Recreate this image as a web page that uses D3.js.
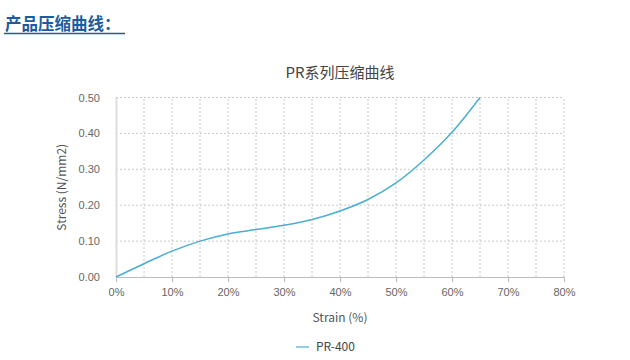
<!DOCTYPE html>
<html>
<head>
<meta charset="utf-8">
<script src="https://cdn.jsdelivr.net/npm/d3@7"></script>
<style>
  body { margin: 0; background: #fff; font-family: 'Noto Sans CJK SC', 'Noto Sans', sans-serif; }
  .grid line { stroke: #c8c8c8; stroke-dasharray: 2,2; }
  .tick text { fill: #666; font-size: 11px; }
</style>
</head>
<body>
<svg id="chart" width="630" height="360"></svg>
<script>
// strain (%) vs stress (N/mm2)
const strain = [0, 5, 10, 15, 20, 25, 30, 35, 40, 45, 50, 55, 60, 65]
const stress = [0, 0.037, 0.072, 0.1, 0.12, 0.132, 0.144, 0.16, 0.184, 0.216, 0.262, 0.326, 0.403, 0.5]
const xTicks = [0, 10, 20, 30, 40, 50, 60, 70, 80]
const xGrid = [5, 10, 15, 20, 25, 30, 35, 40, 45, 50, 55, 60, 65, 70, 75, 80]
const yTicks = [0, 0.1, 0.2, 0.3, 0.4, 0.5]
const seriesName = 'PR-400'

const svg = d3.select('#chart')
const color = '#4aaed0'

const x = d3.scaleLinear().domain([0, 80]).range([116, 564])
const y = d3.scaleLinear().domain([0, 0.5]).range([277, 97.5])

// page header
svg.append('text')
  .attr('x', 5).attr('y', 30)
  .attr('fill', '#1b5c9e')
  .attr('font-size', 16.5).attr('font-weight', 'bold')
  .text('产品压缩曲线：')
svg.append('line')
  .attr('x1', 4).attr('x2', 125).attr('y1', 33.5).attr('y2', 33.5)
  .attr('stroke', '#1b5c9e').attr('stroke-width', 1.5)

svg.append('text')
  .attr('x', 340).attr('y', 78)
  .attr('text-anchor', 'middle')
  .attr('fill', '#444').attr('font-size', 15)
  .text('PR系列压缩曲线')

// grid
svg.append('g').classed('grid', true)
  .selectAll('line').data(xGrid).join('line')
  .attr('x1', d => x(d)).attr('x2', d => x(d))
  .attr('y1', y(0)).attr('y2', y(0.5))
svg.append('g').classed('grid', true)
  .selectAll('line').data(yTicks.slice(1)).join('line')
  .attr('x1', x(0)).attr('x2', x(80))
  .attr('y1', d => y(d)).attr('y2', d => y(d))
  .attr('stroke', '#aaa')

// axes
const xAxis = svg.append('g')
  .attr('transform', `translate(0,${y(0)})`)
  .call(d3.axisBottom(x).tickValues(xTicks).tickFormat(d => d + '%').tickSize(5).tickPadding(6))
xAxis.select('.domain').attr('stroke', '#bbb')
xAxis.selectAll('.tick line').attr('stroke', '#bbb')

const yAxis = svg.append('g')
  .attr('transform', `translate(${x(0)},0)`)
  .call(d3.axisLeft(y).tickValues(yTicks).tickFormat(d3.format('.2f')).tickSize(0).tickPadding(16))
yAxis.select('.domain').attr('stroke', '#ddd').attr('stroke-width', 2)

svg.append('text')
  .attr('transform', `translate(66,${(y(0) + y(0.5)) / 2}) rotate(-90)`)
  .attr('text-anchor', 'middle')
  .attr('fill', '#555').attr('font-size', 12)
  .text('Stress (N/mm2)')

svg.append('text')
  .attr('x', x(40)).attr('y', 322)
  .attr('text-anchor', 'middle')
  .attr('fill', '#555').attr('font-size', 12)
  .text('Strain (%)')

// curve
const line = d3.line()
  .x((d, i) => x(strain[i]))
  .y(d => y(d))
  .curve(d3.curveCatmullRom)
svg.append('path')
  .datum(stress)
  .attr('fill', 'none')
  .attr('stroke', color)
  .attr('stroke-width', 1.5)
  .attr('d', line)

// legend
svg.append('line')
  .attr('x1', 296).attr('x2', 309).attr('y1', 347).attr('y2', 347)
  .attr('stroke', '#8fcfe0').attr('stroke-width', 2)
svg.append('text')
  .attr('x', 316).attr('y', 351)
  .attr('fill', '#444').attr('font-size', 12)
  .text(seriesName)
</script>
</body>
</html>
